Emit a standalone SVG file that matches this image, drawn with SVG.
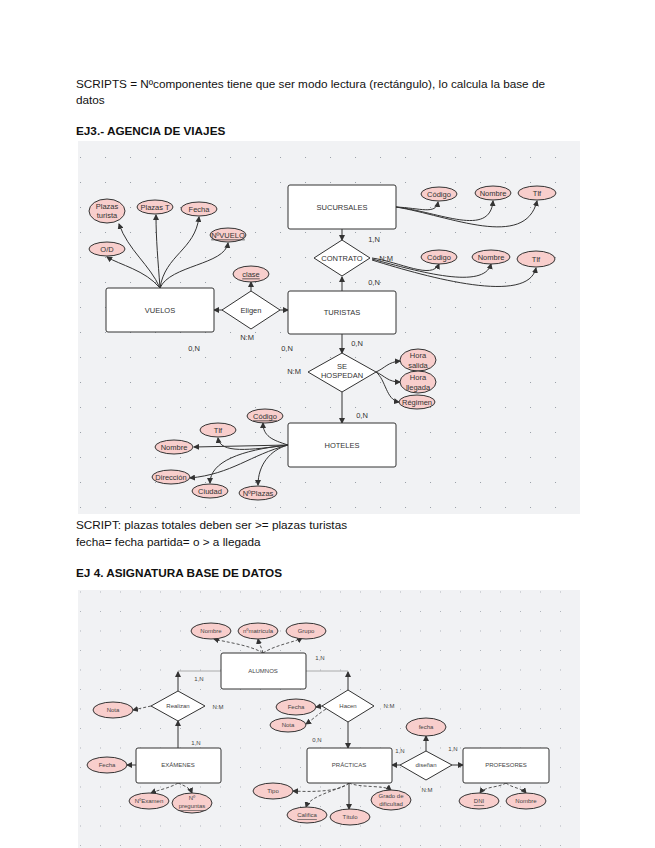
<svg xmlns="http://www.w3.org/2000/svg" width="655" height="848" viewBox="0 0 655 848">
<style>
.doc{font-family:"Liberation Sans",Arial,sans-serif;font-size:11.75px;fill:#111}
.h{font-weight:bold}
.bg{fill:#f1f2f4}
.ent{fill:#fff;stroke:#333;stroke-width:1}
.rel{fill:#fff;stroke:#333;stroke-width:1}
.att{fill:#f8cecc;stroke:#333;stroke-width:1}
.t{font-family:"Liberation Sans",Arial,sans-serif;font-size:7.5px;fill:#333;text-anchor:middle;dominant-baseline:central}
.s{font-family:"Liberation Sans",Arial,sans-serif;font-size:6px;fill:#444;text-anchor:middle;dominant-baseline:central}
.lbl{font-family:"Liberation Sans",Arial,sans-serif;font-size:7.5px;fill:#333;text-anchor:middle;dominant-baseline:central}
.lbl2{font-family:"Liberation Sans",Arial,sans-serif;font-size:6px;fill:#444;text-anchor:middle;dominant-baseline:central}
.u{text-decoration:underline}
.c{fill:none;stroke:#333;stroke-width:1;marker-end:url(#ah)}
.cd{fill:none;stroke:#444;stroke-width:0.9;stroke-dasharray:3 2;marker-end:url(#ah)}
.cp{fill:none;stroke:#999;stroke-width:0.8}
</style>
<defs>
<marker id="ah" markerWidth="6" markerHeight="6" refX="5" refY="3" orient="auto" markerUnits="userSpaceOnUse">
<path d="M0,0 L6,3 L0,6 Z" fill="#333"/>
</marker>
<pattern id="g1" x="80" y="157" width="25" height="25" patternUnits="userSpaceOnUse">
<circle cx="0.5" cy="0.5" r="0.6" fill="#9aa0a8"/>
</pattern>
<pattern id="g2" x="80" y="611" width="20" height="19.5" patternUnits="userSpaceOnUse">
<circle cx="0.5" cy="0.5" r="0.5" fill="#9aa0a8"/>
</pattern>
</defs>
<rect width="655" height="848" fill="#fff"/>
<text class="doc" x="76" y="88">SCRIPTS = Nºcomponentes tiene que ser modo lectura (rectángulo), lo calcula la base de</text>
<text class="doc" x="76" y="104">datos</text>
<text class="doc h" x="76" y="135">EJ3.- AGENCIA DE VIAJES</text>

<rect class="bg" x="78" y="141" width="502" height="373"/>
<rect x="78" y="141" width="502" height="373" fill="url(#g1)"/>

<g id="connectors1">
<path class="c" d="M160,288 C150,265 128,250 119,224"/>
<path class="c" d="M160,288 C158,260 156,240 156,215"/>
<path class="c" d="M160,288 C165,255 195,250 199,217"/>
<path class="c" d="M160,288 C170,265 225,265 228,243"/>
<path class="c" d="M160,288 C145,270 120,265 107,257"/>
<path class="c" d="M396,207 C420,208 436,215 438,202"/>
<path class="c" d="M396,207 C440,212 490,238 493,201"/>
<path class="c" d="M396,207 C450,216 525,250 537,201"/>
<path class="c" d="M372,258 C400,262 432,280 439,264"/>
<path class="c" d="M372,259 C420,272 484,290 491,264"/>
<path class="c" d="M372,260 C430,278 528,305 536,268"/>
<path class="c" d="M342,229 L342,240"/>
<path class="c" d="M342,291 L342,277"/>
<path class="c" d="M223,310 L214,310"/>
<path class="c" d="M280,310 L288,310"/>
<path class="c" d="M251,291 L251,282"/>
<path class="c" d="M342,334 L342,353"/>
<path class="c" d="M342,392 L342,423"/>
<path class="c" d="M376,372 C385,368 388,362 400,361"/>
<path class="c" d="M376,372 C385,376 388,382 400,382"/>
<path class="c" d="M376,372 C386,380 386,400 399,402"/>
<path class="c" d="M288,445 C272,440 263,436 263,423"/>
<path class="c" d="M288,445 C250,450 220,454 218,438"/>
<path class="c" d="M288,445 L194,447"/>
<path class="c" d="M288,445 C250,455 232,474 190,478"/>
<path class="c" d="M288,445 C240,450 210,462 210,483"/>
<path class="c" d="M288,445 C270,450 258,465 258,485"/>
</g>

<g id="SUCURSALES"><rect class="ent" x="288" y="185" width="108" height="44" rx="2"/><text class="t" x="342" y="207">SUCURSALES</text></g>
<g id="CONTRATO"><polygon class="rel" points="342,240 370,258 342,276 314,258"/><text class="t" x="342" y="258">CONTRATO</text></g>
<g id="TURISTAS"><rect class="ent" x="288" y="291" width="108" height="43" rx="2"/><text class="t" x="342" y="312">TURISTAS</text></g>
<g id="VUELOS"><rect class="ent" x="106" y="288" width="108" height="44" rx="2"/><text class="t" x="160" y="310">VUELOS</text></g>
<g id="Eligen"><polygon class="rel" points="251,291 280,310 251,329 222,310"/><text class="t" x="251" y="310">Eligen</text></g>
<g id="clase"><ellipse class="att" cx="251" cy="274" rx="18" ry="8"/><text class="t u" x="251" y="274">clase</text></g>
<g id="SE_HOSPEDAN"><polygon class="rel" points="342,353 376,372 342,392 308,372"/><text class="t" x="342" y="366">SE</text><text class="t" x="342" y="375">HOSPEDAN</text></g>
<g id="HOTELES"><rect class="ent" x="288" y="423" width="108" height="44" rx="2"/><text class="t" x="342" y="445">HOTELES</text></g>

<g id="Plazas_turista"><ellipse class="att" cx="107" cy="211" rx="18" ry="12"/><text class="t" x="107" y="206">Plazas</text><text class="t" x="107" y="215">turista</text></g>
<g id="Plazas_T"><ellipse class="att" cx="155" cy="207" rx="18" ry="7"/><text class="t" x="155" y="207">Plazas T</text></g>
<g id="Fecha"><ellipse class="att" cx="199" cy="209" rx="18" ry="7"/><text class="t" x="199" y="209">Fecha</text></g>
<g id="NVUELO"><ellipse class="att" cx="228" cy="235" rx="18" ry="7"/><text class="t u" x="228" y="235">NºVUELO</text></g>
<g id="OD"><ellipse class="att" cx="107" cy="249" rx="18" ry="7"/><text class="t" x="107" y="249">O/D</text></g>

<g id="S_Codigo"><ellipse class="att" cx="439" cy="194" rx="18" ry="7"/><text class="t" x="439" y="194">Código</text></g>
<g id="S_Nombre"><ellipse class="att" cx="493" cy="193" rx="18" ry="7"/><text class="t" x="493" y="193">Nombre</text></g>
<g id="S_Tlf"><ellipse class="att" cx="537" cy="193" rx="19" ry="7"/><text class="t" x="537" y="193">Tlf</text></g>

<g id="T_Codigo"><ellipse class="att" cx="439" cy="257" rx="18" ry="7"/><text class="t" x="439" y="257">Código</text></g>
<g id="T_Nombre"><ellipse class="att" cx="491" cy="257" rx="19" ry="7"/><text class="t" x="491" y="257">Nombre</text></g>
<g id="T_Tlf"><ellipse class="att" cx="536" cy="259" rx="19" ry="8"/><text class="t" x="536" y="259">Tlf</text></g>

<g id="Hora_salida"><ellipse class="att" cx="418" cy="360" rx="18" ry="11"/><text class="t" x="418" y="355">Hora</text><text class="t" x="418" y="365">salida</text></g>
<g id="Hora_llegada"><ellipse class="att" cx="418" cy="382" rx="18" ry="11"/><text class="t" x="418" y="377">Hora</text><text class="t" x="418" y="387">llegada</text></g>
<g id="Regimen"><ellipse class="att" cx="417" cy="402" rx="18" ry="7"/><text class="t" x="417" y="402">Régimen</text></g>

<g id="H_Codigo"><ellipse class="att" cx="265" cy="416" rx="18" ry="7"/><text class="t u" x="265" y="416">Código</text></g>
<g id="H_Tlf"><ellipse class="att" cx="218" cy="430" rx="18" ry="7"/><text class="t" x="218" y="430">Tlf</text></g>
<g id="H_Nombre"><ellipse class="att" cx="174" cy="447" rx="19" ry="7"/><text class="t" x="174" y="447">Nombre</text></g>
<g id="H_Direccion"><ellipse class="att" cx="171" cy="477" rx="19" ry="7"/><text class="t" x="171" y="477">Dirección</text></g>
<g id="H_Ciudad"><ellipse class="att" cx="210" cy="491" rx="18" ry="7"/><text class="t" x="210" y="491">Ciudad</text></g>
<g id="H_NPlazas"><ellipse class="att" cx="258" cy="493" rx="19" ry="7"/><text class="t" x="258" y="493">NºPlazas</text></g>

<g id="labels1">
<text class="lbl" x="374" y="239">1,N</text>
<text class="lbl" x="386" y="258">N:M</text>
<text class="lbl" x="374" y="282">0,N</text>
<text class="lbl" x="247" y="337">N:M</text>
<text class="lbl" x="194" y="348">0,N</text>
<text class="lbl" x="287" y="348">0,N</text>
<text class="lbl" x="294" y="371">N:M</text>
<text class="lbl" x="357" y="343">0,N</text>
<text class="lbl" x="362" y="415">0,N</text>
</g>

<text class="doc" x="76" y="529">SCRIPT: plazas totales deben ser &gt;= plazas turistas</text>
<text class="doc" x="76" y="546">fecha= fecha partida= o &gt; a llegada</text>
<text class="doc h" x="76" y="577">EJ 4. ASIGNATURA BASE DE DATOS</text>

<rect class="bg" x="78" y="590" width="502" height="258"/>
<rect x="78" y="590" width="502" height="258" fill="url(#g2)"/>

<g id="connectors2">
<path class="cd" d="M263,653 C250,645 225,642 214,639"/>
<path class="cd" d="M263,653 C262,648 259,644 258,639"/>
<path class="cd" d="M263,653 C275,645 295,642 302,638"/>
<path class="cp" d="M221,671 L178,671"/>
<path class="c" d="M178,691 L178,672"/>
<path class="cp" d="M306,671 L348,671"/>
<path class="c" d="M348,690 L348,672"/>
<path class="cd" d="M151,706 L133,710"/>
<path class="c" d="M322,706 L316,707"/>
<path class="cd" d="M326,709 C318,714 312,720 306,724"/>
<path class="c" d="M348,722 L348,748"/>
<path class="c" d="M178,748 L178,721"/>
<path class="c" d="M136,765 L127,765"/>
<path class="cd" d="M178,783 C170,788 158,790 151,793"/>
<path class="cd" d="M178,783 C185,786 190,788 192,793"/>
<path class="c" d="M400,765 L392,765"/>
<path class="c" d="M452,765 L463,765"/>
<path class="c" d="M426,751 L426,736"/>
<path class="cd" d="M506,783 C498,788 485,786 480,793"/>
<path class="cd" d="M506,783 C512,788 522,788 526,793"/>
<path class="cd" d="M349,783 C340,792 310,792 293,791"/>
<path class="cd" d="M349,783 C340,790 310,795 306,807"/>
<path class="c" d="M349,783 L349,809"/>
<path class="cd" d="M349,783 C360,788 385,785 391,790"/>
</g>

<g id="ALUMNOS"><rect class="ent" x="221" y="653" width="85" height="36" rx="2"/><text class="s" x="263" y="671">ALUMNOS</text></g>
<g id="A_Nombre"><ellipse class="att" cx="211" cy="631" rx="20" ry="8"/><text class="s" x="211" y="631">Nombre</text></g>
<g id="A_Matricula"><ellipse class="att" cx="258" cy="631" rx="20" ry="8"/><text class="s" x="258" y="631">nºmatrícula</text></g>
<g id="A_Grupo"><ellipse class="att" cx="306" cy="631" rx="20" ry="8"/><text class="s" x="306" y="631">Grupo</text></g>
<g id="Realizan"><polygon class="rel" points="178,691 205,706 178,721 151,706"/><text class="s" x="178" y="706">Realizan</text></g>
<g id="R_Nota"><ellipse class="att" cx="113" cy="710" rx="20" ry="8"/><text class="s" x="113" y="710">Nota</text></g>
<g id="Hacen"><polygon class="rel" points="348,690 374,706 348,722 322,706"/><text class="s" x="348" y="706">Hacen</text></g>
<g id="H2_Fecha"><ellipse class="att" cx="296" cy="707" rx="20" ry="8"/><text class="s" x="296" y="707">Fecha</text></g>
<g id="H2_Nota"><ellipse class="att" cx="288" cy="725" rx="18" ry="7"/><text class="s" x="288" y="725">Nota</text></g>
<g id="EXAMENES"><rect class="ent" x="136" y="748" width="85" height="35" rx="2"/><text class="s" x="178" y="765">EXÁMENES</text></g>
<g id="E_Fecha"><ellipse class="att" cx="107" cy="765" rx="20" ry="8"/><text class="s" x="107" y="765">Fecha</text></g>
<g id="E_NExamen"><ellipse class="att" cx="149" cy="801" rx="20" ry="8"/><text class="s" x="149" y="801">NºExamen</text></g>
<g id="E_NPreguntas"><ellipse class="att" cx="192" cy="803" rx="20" ry="10"/><text class="s" x="192" y="798">Nº</text><text class="s u" x="192" y="806">preguntas</text></g>
<g id="PRACTICAS"><rect class="ent" x="307" y="748" width="85" height="35" rx="2"/><text class="s" x="349" y="765">PRÁCTICAS</text></g>
<g id="disenan"><polygon class="rel" points="426,751 452,765 426,780 400,765"/><text class="s" x="426" y="765">diseñan</text></g>
<g id="D_fecha"><ellipse class="att" cx="426" cy="727" rx="20" ry="9"/><text class="s" x="426" y="727">fecha</text></g>
<g id="PROFESORES"><rect class="ent" x="463" y="748" width="86" height="35" rx="2"/><text class="s" x="506" y="765">PROFESORES</text></g>
<g id="P_DNI"><ellipse class="att" cx="479" cy="801" rx="20" ry="8"/><text class="s u" x="479" y="801">DNI</text></g>
<g id="P_Nombre"><ellipse class="att" cx="526" cy="801" rx="20" ry="8"/><text class="s" x="526" y="801">Nombre</text></g>
<g id="PR_Tipo"><ellipse class="att" cx="273" cy="791" rx="20" ry="8"/><text class="s" x="273" y="791">Tipo</text></g>
<g id="PR_Grado"><ellipse class="att" cx="391" cy="800" rx="20" ry="10"/><text class="s" x="391" y="796">Grado de</text><text class="s" x="391" y="804">dificultad</text></g>
<g id="PR_Calific"><ellipse class="att" cx="307" cy="815" rx="20" ry="8"/><text class="s u" x="307" y="815">Califica</text></g>
<g id="PR_Titulo"><ellipse class="att" cx="350" cy="817" rx="20" ry="8"/><text class="s" x="350" y="817">Título</text></g>

<g id="labels2">
<text class="lbl2" x="199" y="679">1,N</text>
<text class="lbl2" x="218" y="707">N:M</text>
<text class="lbl2" x="320" y="658">1,N</text>
<text class="lbl2" x="389" y="706">N:M</text>
<text class="lbl2" x="317" y="740">0,N</text>
<text class="lbl2" x="196" y="743">1,N</text>
<text class="lbl2" x="400" y="751">1,N</text>
<text class="lbl2" x="453" y="749">1,N</text>
<text class="lbl2" x="427" y="790">N:M</text>
</g>
</svg>
